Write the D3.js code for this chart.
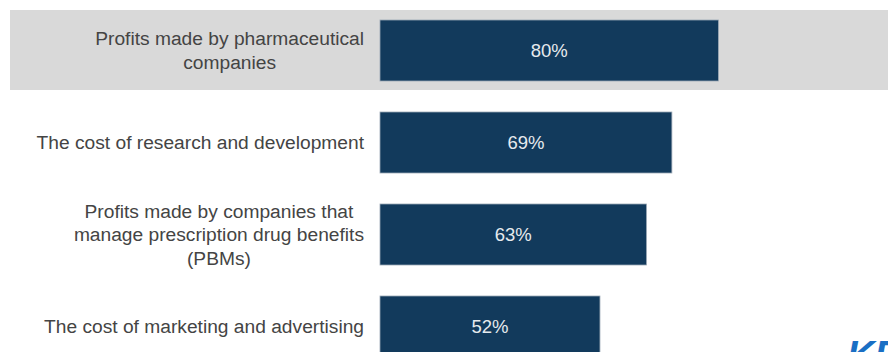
<!DOCTYPE html>
<html>
<head>
<meta charset="utf-8">
<script src="https://cdn.jsdelivr.net/npm/d3@7"></script>
<style>
  html, body { margin: 0; padding: 0; background: #ffffff; overflow: hidden; }
  svg { display: block; }
  text { font-family: "Liberation Sans", Arial, sans-serif; }
</style>
</head>
<body>
<svg id="chart" width="888" height="352"></svg>
<script>
// Share saying each factor is a major reason for high drug costs
const categories = [
  "Profits made by pharmaceutical\ncompanies",
  "The cost of research and development",
  "Profits made by companies that\nmanage prescription drug benefits\n(PBMs)",
  "The cost of marketing and advertising"
];
const values = [80, 69, 63, 52];
const highlighted = [0];

const W = 888, H = 352;
const svg = d3.select("#chart");

const y = d3.scaleBand()
  .domain(d3.range(categories.length))
  .range([4.5, 372.5])
  .paddingInner(0.337)
  .paddingOuter(0.1685);

const x = d3.scaleLinear().domain([0, 100]).range([380, 803]);

// Grey band behind the highlighted row
svg.append("g").selectAll("rect")
  .data(highlighted)
  .join("rect")
  .attr("x", 10)
  .attr("y", d => y(d) + y.bandwidth() / 2 - 40.5)
  .attr("width", W - 10)
  .attr("height", 80)
  .attr("fill", "#d9d9d9");

// Bars
svg.append("g").selectAll("rect")
  .data(values)
  .join("rect")
  .attr("x", x(0))
  .attr("y", (d, i) => y(i))
  .attr("width", d => x(d) - x(0))
  .attr("height", y.bandwidth())
  .attr("fill", "#123a5c")
  .attr("stroke", "#9aa7b4")
  .attr("stroke-width", 0.8);

// Value labels inside bars
svg.append("g").selectAll("text")
  .data(values)
  .join("text")
  .attr("x", d => (x(0) + x(d)) / 2)
  .attr("y", (d, i) => y(i) + y.bandwidth() / 2)
  .attr("dy", "0.35em")
  .attr("text-anchor", "middle")
  .attr("fill", "#e6eaee")
  .attr("font-size", 18.5)
  .text(d => d + "%");

// Category labels, each line centred, block right-aligned to the bars
const lineH = 23.5;
const labels = svg.append("g").selectAll("g")
  .data(categories)
  .join("g");

labels.each(function (d, i) {
  const lines = d.split("\n");
  const g = d3.select(this);
  const cy = y(i) + y.bandwidth() / 2;
  const t = g.selectAll("text")
    .data(lines)
    .join("text")
    .attr("y", (l, j) => cy + (j - (lines.length - 1) / 2) * lineH)
    .attr("dy", "0.35em")
    .attr("text-anchor", "middle")
    .attr("fill", "#444444")
    .attr("font-size", 19.2)
    .text(l => l);
  let maxW = 0;
  t.each(function () { maxW = Math.max(maxW, this.getComputedTextLength()); });
  t.attr("x", 364 - maxW / 2);
});

// Logo mark in the corner
svg.append("text")
  .attr("x", 847)
  .attr("y", 368)
  .attr("fill", "#1a6fc4")
  .attr("font-size", 38)
  .attr("font-weight", "bold")
  .attr("font-style", "italic")
  .text("KFF");
</script>
</body>
</html>
